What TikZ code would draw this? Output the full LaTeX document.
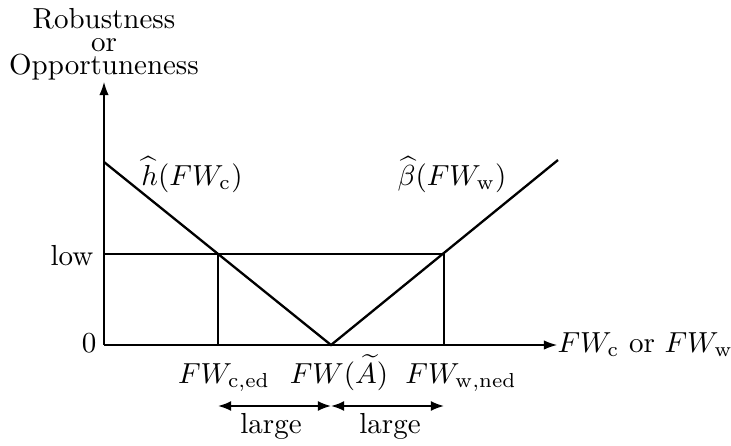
\documentclass[tikz,border=0pt]{standalone}
\usetikzlibrary{arrows.meta}
\begin{document}
\begin{tikzpicture}[x=0.345pt,y=-0.345pt,
  axis/.style={line width=0.4pt,-{Latex[length=4.5pt,width=3.2pt]}},
  curve/.style={line width=0.8pt},
  thin/.style={line width=0.4pt},
  dim/.style={line width=0.6pt,{Latex[length=4.5pt,width=3.4pt]}-{Latex[length=4.5pt,width=3.4pt]}},
  lab/.style={inner sep=0pt,anchor=base}]
\useasboundingbox (0,0) rectangle (731,445);
% coordinates
\coordinate (O) at (104,345);
\coordinate (ytop) at (104,82);
\coordinate (xend) at (557,345);
\coordinate (A) at (104,162);
\coordinate (V) at (331,345);
\coordinate (B) at (558,160);
\coordinate (L0) at (104,254);
\coordinate (L1) at (218,254);
\coordinate (L2) at (444,254);
\coordinate (X1) at (218,345);
\coordinate (X2) at (444,345);
\coordinate (D1) at (218,406);
\coordinate (D2) at (331,406);
\coordinate (D3) at (444,406);
% axes
\draw[axis] (O) -- (ytop);
\draw[axis] (O) -- (xend);
% thin lines
\draw[thin] (L0) -- (L2);
\draw[thin] (L1) -- (X1);
\draw[thin] (L2) -- (X2);
% curves
\draw[curve] (A) -- (V) -- (B);
% dimension arrows
\draw[dim] (D1) -- (D2);
\draw[dim] (D2) -- (D3);
% labels
\node[lab] (t1) at (104,29) {Robustness};
\node[lab] (t2) at (104,52) {or};
\node[lab] (t3) at (104,75) {Opportuneness};
\node[lab] (low) at (72,265) {low};
\node[lab] (zero) at (89,352) {0};
\node[lab,anchor=base west] (xl) at (557,352) {$FW_{\mathrm{c}}$ or $FW_{\mathrm{w}}$};
\node[lab] (hl) at (192,185) {$\widehat{h}(FW_{\mathrm{c}})$};
\node[lab] (bl) at (452,185) {$\widehat{\beta}(FW_{\mathrm{w}})$};
\node[lab] (f1) at (224,383) {$FW_{\mathrm{c,ed}}$};
\node[lab] (f2) at (339,383) {$FW(\widetilde{A})$};
\node[lab] (f3) at (461,383) {$FW_{\mathrm{w,ned}}$};
\node[lab] (g1) at (271,433) {large};
\node[lab] (g2) at (390,433) {large};
\end{tikzpicture}
\end{document}
